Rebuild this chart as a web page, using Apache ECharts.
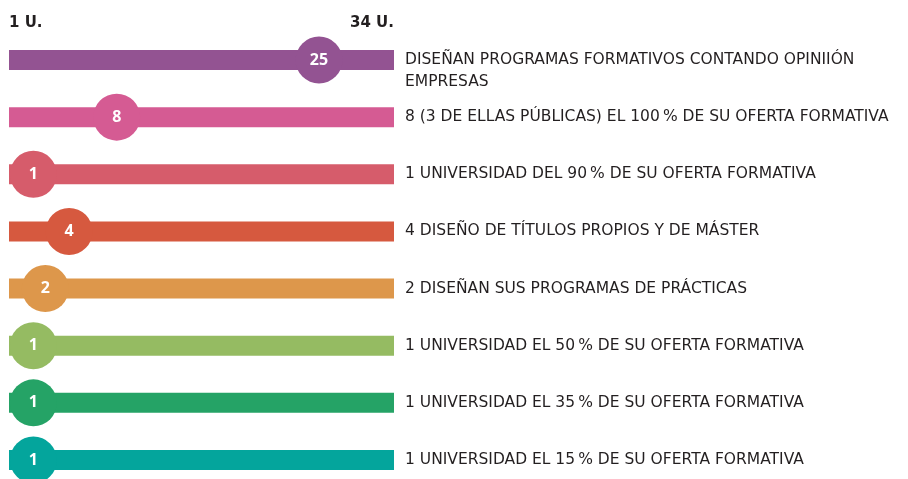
<!DOCTYPE html>
<html lang="es">
<head>
<meta charset="UTF-8">
<title>Universidades</title>
<script src="https://cdn.jsdelivr.net/npm/echarts@6/dist/echarts.min.js"></script>
<style>
  html, body { margin: 0; padding: 0; background: #fff; }
  #chart { width: 908px; height: 479px; }
</style>
</head>
<body>
<div id="chart"></div>
<script>
// filas de arriba a abajo
var categories = [
  'DISEÑAN PROGRAMAS FORMATIVOS CONTANDO OPINIIÓN EMPRESAS',
  '8 (3 DE ELLAS PÚBLICAS) EL 100\u2009% DE SU OFERTA FORMATIVA',
  '1 UNIVERSIDAD DEL 90\u2009% DE SU OFERTA FORMATIVA',
  '4 DISEÑO DE TÍTULOS PROPIOS Y DE MÁSTER',
  '2 DISEÑAN SUS PROGRAMAS DE PRÁCTICAS',
  '1 UNIVERSIDAD EL 50\u2009% DE SU OFERTA FORMATIVA',
  '1 UNIVERSIDAD EL 35\u2009% DE SU OFERTA FORMATIVA',
  '1 UNIVERSIDAD EL 15\u2009% DE SU OFERTA FORMATIVA'
];
var values = [25, 8, 1, 4, 2, 1, 1, 1];
var scaleMin = 1;
var scaleMax = 34;
var colors = ['#935392', '#d55b93', '#d65c6b', '#d6593f', '#dd974b', '#95bb62', '#25a366', '#04a59c'];

var chart = echarts.init(document.getElementById('chart'));

var trackData = categories.map(function (c, i) {
  var item = { value: scaleMax, itemStyle: { color: colors[i] } };
  // sólo la primera etiqueta ocupa dos líneas
  if (i === 0) item.label = { width: 495, overflow: 'break' };
  return item;
});
var dotData = values.map(function (v, i) {
  return { value: [v, i], itemStyle: { color: colors[i], opacity: 1 } };
});

chart.setOption({
  animation: false,
  grid: { left: 9, right: 514, top: 60, height: 400, outerBoundsMode: 'none' },
  xAxis: [{
    type: 'value',
    position: 'top',
    min: scaleMin,
    max: scaleMax,
    splitLine: { show: false },
    axisLine: { show: false },
    axisTick: { show: false },
    axisLabel: {
      margin: 29,
      showMinLabel: true,
      showMaxLabel: true,
      alignMinLabel: 'left',
      alignMaxLabel: 'right',
      fontFamily: 'DejaVu Sans',
      fontWeight: 'bold',
      fontSize: 15,
      color: '#231f20',
      formatter: function (v) {
        return (v === scaleMin || v === scaleMax) ? v + ' U.' : '';
      }
    }
  }, {
    // escala de los círculos
    type: 'value',
    show: false,
    min: -1.05,
    max: 31.3
  }],
  yAxis: {
    type: 'category',
    inverse: true,
    boundaryGap: false,
    data: categories,
    show: false
  },
  series: [{
    type: 'bar',
    xAxisIndex: 0,
    barWidth: 20,
    data: trackData,
    label: {
      show: true,
      position: 'right',
      distance: 11,
      verticalAlign: 'top',
      offset: [0, -11],
      lineHeight: 22,
      fontFamily: 'DejaVu Sans',
      fontSize: 15.5,
      color: '#231f20',
      formatter: function (p) { return p.name; }
    }
  }, {
    type: 'scatter',
    xAxisIndex: 1,
    symbolSize: 47,
    z: 3,
    data: dotData,
    label: {
      show: true,
      position: 'inside',
      fontFamily: 'Open Sans',
      fontWeight: 'bold',
      fontSize: 16,
      color: '#fff',
      formatter: function (p) { return p.value[0]; }
    }
  }]
});
</script>
</body>
</html>
